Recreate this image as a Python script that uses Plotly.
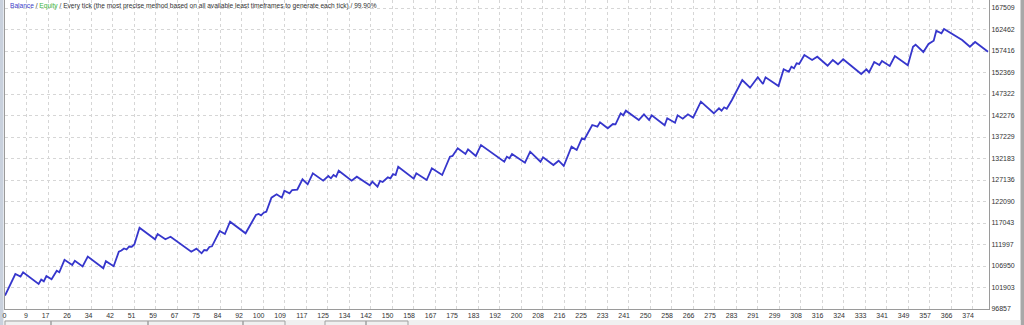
import plotly.graph_objects as go
import numpy as np

# ---- data ----
trade_no = [0, 4, 6, 7, 13, 14, 15, 16, 18, 20, 21, 23, 26, 27, 30, 32, 38, 39, 42, 44,
            45, 46, 47, 48, 49, 50, 52, 58, 59, 62, 64, 72, 74, 76, 77, 78, 79, 80, 83, 85,
            87, 93, 97, 98, 99, 100, 101, 103, 105, 107, 108, 110, 111, 113, 115, 117, 119, 123, 125, 126,
            127, 128, 129, 134, 136, 141, 142, 144, 145, 146, 148, 149, 150, 151, 152, 158, 159, 163, 165, 169,
            172, 173, 175, 178, 179, 182, 184, 193, 194, 195, 196, 201, 203, 205, 207, 208, 212, 214, 216, 219,
            221, 223, 224, 227, 229, 230, 233, 235, 236, 238, 239, 240, 245, 247, 249, 250, 255, 256, 259, 260,
            262, 264, 266, 269, 274, 276, 277, 278, 279, 281, 285, 288, 291, 293, 294, 299, 301, 303, 304, 305,
            306, 307, 309, 312, 314, 318, 320, 322, 324, 331, 333, 334, 336, 338, 339, 342, 344, 349, 351, 352,
            355, 357, 359, 360, 362, 363, 370, 373, 375, 380]
balance = [100000, 105073, 104486, 105472, 102725, 103782, 103359, 104603, 103829, 105847,
           105472, 108406, 107185, 108171, 106833, 109180, 106410, 108077, 106903, 110307,
           110589, 111058, 110823, 111528, 111481, 111997, 115941, 113218, 114462, 113218,
           113828, 110307, 111011, 109932, 110706, 110589, 111410, 111575, 115166, 114462,
           117349, 114626, 118922, 119156, 118851, 119462, 119696, 122982, 123781, 122982,
           124626, 124015, 124790, 124900, 127302, 126128, 128710, 126973, 128076, 127536,
           128311, 127912, 129320, 126973, 127912, 125893, 126738, 125564, 126902, 126668,
           127771, 127536, 128546, 128311, 130259, 127442, 128710, 127137, 129884, 128311,
           132606, 132771, 134578, 133240, 134343, 132771, 135353, 131433, 132606, 132231,
           133240, 131198, 133780, 132606, 131433, 132466, 130658, 131667, 130423, 134954,
           134179, 136925, 136691, 140047, 139648, 140681, 139273, 140282, 140212, 142794,
           142324, 143404, 141221, 142559, 141221, 142324, 139977, 141620, 140587, 142324,
           141526, 142559, 141761, 145517, 142794, 143967, 143404, 144202, 143873, 145916,
           150610, 148803, 151244, 149671, 151244, 149202, 153122, 152558, 153732, 153357,
           154530, 154366, 156478, 155305, 156079, 153967, 155305, 154295, 155469, 152019,
           153122, 152418, 154835, 154131, 155070, 153896, 156244, 154061, 158427, 158896,
           157183, 159060, 159835, 162183, 161572, 162581, 159999, 158427, 159530, 157253]

x_tick_labels = ["0", "9", "17", "26", "34", "42", "51", "59", "67", "75", "84", "92", "100",
                 "109", "117", "125", "134", "142", "150", "158", "167", "175", "183", "192",
                 "200", "208", "216", "225", "233", "241", "250", "258", "266", "275", "283",
                 "291", "299", "308", "316", "324", "333", "341", "349", "357", "366", "374"]
y_tick_labels = ["96857", "101903", "106950", "111997", "117043", "122090", "127136", "132183",
                 "137229", "142276", "147322", "152369", "157416", "162462", "167509"]

title_parts = ["Balance", "Equity",
               "Every tick (the most precise method based on all available least timeframes to generate each tick)",
               "99.90%"]

# ---- layout geometry (pixels) ----
W, H = 1024, 325
ML, MR, MT, MB = 5, 35, 0, 16
PW, PH = W - ML - MR, H - MT - MB
GRID_PX = 21.5

x_step = 374 / (len(x_tick_labels) - 1)
x_tick_pos = [k * x_step for k in range(len(x_tick_labels))]
x_max = x_step * PW / GRID_PX

y_vals = [float(v) for v in y_tick_labels]
y_step = (y_vals[-1] - y_vals[0]) / (len(y_vals) - 1)
y_min = y_vals[0]
y_max = y_min + y_step * PH / GRID_PX

fig = go.Figure()
fig.add_trace(go.Scatter(x=trade_no, y=balance, mode="lines",
                         line=dict(color="#3636cc", width=1.8), hoverinfo="skip",
                         showlegend=False))

font_main = "Liberation Sans"
grid_col = "#d6d6d6"
frame_col = "#9a9a9a"

fig.update_layout(
    width=W, height=H, autosize=False,
    margin=dict(l=ML, r=MR, t=MT, b=MB, pad=0),
    paper_bgcolor="white", plot_bgcolor="white",
    font=dict(family=font_main, size=7, color="#333333"),
    xaxis=dict(range=[0, x_max], tickvals=x_tick_pos, ticktext=x_tick_labels,
               showgrid=True, gridcolor=grid_col, griddash="dot", gridwidth=1,
               zeroline=False, showline=True, linecolor=frame_col, linewidth=1,
               ticks="", ticklabelposition="outside left", ticklabelshift=2,
               tickfont=dict(family=font_main, size=7, color="#333333"),
               fixedrange=True),
    yaxis=dict(range=[y_min, y_max], side="right", tickvals=y_vals, ticktext=y_tick_labels,
               showgrid=True, gridcolor=grid_col, griddash="dot", gridwidth=1,
               zeroline=False, showline=True, mirror=True, linecolor=frame_col, linewidth=1,
               ticks="", tickfont=dict(family=font_main, size=7, color="#333333"),
               fixedrange=True),
)

title_html = (f"<span style='color:#3c3cc8'>{title_parts[0]}</span> / "
              f"<span style='color:#3cb43c'>{title_parts[1]}</span> / "
              f"{title_parts[2]} / {title_parts[3]}")
fig.add_annotation(text=title_html, xref="paper", yref="paper",
                   x=(8 - ML) / PW, y=1 - (6 - MT) / PH, xanchor="left", yanchor="middle",
                   showarrow=False, font=dict(family=font_main, size=6.6, color="#333333"))

def px_x(p):
    return (p - ML) / PW

def px_y(p):
    return 1 - (p - MT) / PH

# window decorations: left strip, right strip, bottom tab bar
fig.add_shape(type="rect", xref="paper", yref="paper", x0=px_x(0), x1=px_x(3.5),
              y0=px_y(325), y1=px_y(0), fillcolor="#c9d1dd", line=dict(width=0), layer="below")
fig.add_shape(type="rect", xref="paper", yref="paper", x0=px_x(1020.5), x1=px_x(1024),
              y0=px_y(325), y1=px_y(0), fillcolor="#a8a8a8", line=dict(width=0), layer="above")
fig.add_shape(type="rect", xref="paper", yref="paper", x0=px_x(3.5), x1=px_x(1020.5),
              y0=px_y(325), y1=px_y(320), fillcolor="#f0f0f0", line=dict(width=0), layer="above")
tab_edges = [[5, 51], [51, 148], [148, 243], [243, 285], [325, 366], [366, 408]]
for a, b in tab_edges:
    fig.add_shape(type="rect", xref="paper", yref="paper", x0=px_x(a), x1=px_x(b),
                  y0=px_y(326), y1=px_y(321), fillcolor="rgba(0,0,0,0)",
                  line=dict(color="#a0a0a0", width=1), layer="above")

fig.write_html("out.html", config={"displayModeBar": False, "staticPlot": True})
